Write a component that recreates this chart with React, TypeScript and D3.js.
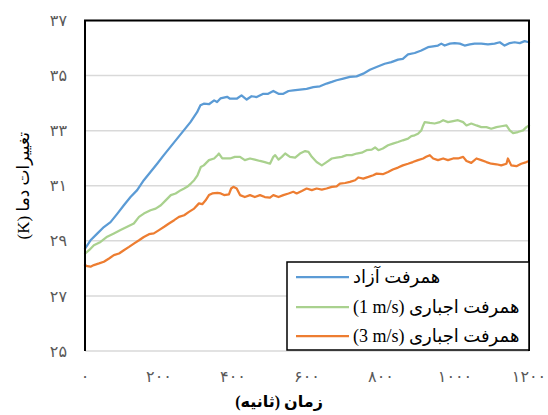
import React from "react";
import * as d3 from "d3";

const yTicks = [25, 27, 29, 31, 33, 35, 37];
const xTicks = [0, 200, 400, 600, 800, 1000, 1200];
const seriesNames = ["همرفت آزاد", "همرفت اجباری", "همرفت اجباری"];
const seriesUnits = ["", "(1 m/s)", "(3 m/s)"];
const seriesColors = ["#5B9BD5", "#A9D18E", "#ED7D31"];
const xTitle = "زمان (ثانیه)";
const yTitle = "تغییرات دما (K)";

const freeConv: [number, number][] = [
  [0, 28.72], [15, 29.02], [33, 29.26], [51, 29.5], [69, 29.68], [87, 29.98], [105, 30.29], [123, 30.59],
  [141, 30.84], [159, 31.2], [177, 31.5], [195, 31.8], [213, 32.11], [231, 32.41], [249, 32.71], [267, 33.01],
  [285, 33.31], [303, 33.67], [312, 33.92], [321, 33.98], [335, 33.96], [349, 34.1], [357, 34.04], [366, 34.17],
  [384, 34.23], [392, 34.16], [410, 34.16], [423, 34.28], [437, 34.13], [450, 34.25], [464, 34.22], [482, 34.34],
  [495, 34.34], [509, 34.44], [523, 34.34], [536, 34.34], [550, 34.44], [563, 34.46], [581, 34.49], [599, 34.52],
  [617, 34.58], [635, 34.61], [653, 34.71], [667, 34.77], [680, 34.83], [698, 34.89], [716, 34.95], [734, 34.97],
  [752, 35.07], [770, 35.21], [788, 35.31], [810, 35.43], [828, 35.49], [846, 35.58], [859, 35.61], [873, 35.77],
  [891, 35.82], [909, 35.91], [927, 36.03], [941, 36.06], [954, 36.09], [963, 36.16], [972, 36.09], [986, 36.16],
  [999, 36.18], [1013, 36.16], [1026, 36.09], [1040, 36.13], [1053, 36.16], [1071, 36.16], [1089, 36.13], [1107, 36.16],
  [1121, 36.21], [1134, 36.09], [1148, 36.18], [1161, 36.21], [1175, 36.18], [1188, 36.25], [1200, 36.21],
];

const forced1: [number, number][] = [
  [0, 28.54], [11, 28.66], [24, 28.84], [42, 28.96], [60, 29.15], [78, 29.27], [96, 29.39], [114, 29.51],
  [132, 29.63], [146, 29.87], [159, 29.99], [177, 30.11], [191, 30.17], [205, 30.29], [218, 30.47], [232, 30.66],
  [245, 30.72], [259, 30.84], [268, 30.9], [276, 30.96], [286, 31.08], [295, 31.2], [304, 31.38], [313, 31.68],
  [321, 31.74], [335, 31.93], [349, 31.99], [358, 32.11], [362, 32.17], [371, 31.99], [385, 31.99], [392, 31.99],
  [405, 32.05], [419, 32.05], [432, 31.93], [446, 31.99], [459, 31.95], [473, 31.9], [486, 31.86], [500, 31.8],
  [509, 32.05], [514, 32.11], [523, 31.95], [532, 32.05], [541, 32.17], [554, 32.05], [568, 32.02], [581, 32.17],
  [595, 32.26], [604, 32.23], [613, 32.05], [626, 31.86], [640, 31.74], [653, 31.86], [667, 31.99], [680, 32.02],
  [694, 32.05], [707, 32.11], [721, 32.11], [734, 32.17], [748, 32.2], [761, 32.29], [775, 32.31], [784, 32.39],
  [793, 32.29], [805, 32.35], [819, 32.47], [832, 32.53], [846, 32.59], [859, 32.65], [873, 32.71], [882, 32.8],
  [891, 32.83], [900, 32.89], [909, 33.01], [914, 33.19], [918, 33.31], [932, 33.28], [945, 33.26], [959, 33.31],
  [968, 33.38], [981, 33.31], [995, 33.35], [1008, 33.38], [1022, 33.31], [1031, 33.19], [1044, 33.26], [1058, 33.19],
  [1071, 33.13], [1085, 33.13], [1098, 33.07], [1112, 33.13], [1125, 33.16], [1139, 33.19], [1148, 33.01], [1157, 32.91],
  [1170, 32.95], [1184, 33.01], [1193, 33.13], [1200, 33.19],
];

const forced3: [number, number][] = [
  [0, 28.12], [6, 28.08], [15, 28.06], [24, 28.12], [38, 28.18], [51, 28.24], [65, 28.36], [78, 28.48],
  [92, 28.54], [105, 28.66], [119, 28.78], [132, 28.9], [146, 29.02], [159, 29.14], [173, 29.24], [186, 29.27],
  [200, 29.39], [214, 29.51], [227, 29.63], [241, 29.75], [254, 29.87], [268, 29.93], [281, 30.05], [295, 30.17],
  [308, 30.36], [317, 30.33], [326, 30.47], [335, 30.66], [344, 30.72], [358, 30.74], [367, 30.72], [376, 30.66],
  [389, 30.69], [395, 30.9], [401, 30.96], [410, 30.9], [419, 30.66], [432, 30.59], [446, 30.66], [459, 30.59],
  [473, 30.66], [486, 30.59], [500, 30.57], [509, 30.66], [523, 30.59], [536, 30.66], [550, 30.72], [563, 30.78],
  [572, 30.72], [586, 30.81], [599, 30.9], [613, 30.84], [626, 30.9], [640, 30.86], [653, 30.9], [667, 30.96],
  [680, 30.98], [689, 31.08], [703, 31.1], [716, 31.14], [730, 31.2], [739, 31.3], [752, 31.26], [766, 31.32],
  [779, 31.38], [788, 31.44], [805, 31.42], [819, 31.5], [832, 31.59], [846, 31.66], [859, 31.74], [873, 31.8],
  [886, 31.86], [900, 31.93], [914, 31.99], [922, 32.05], [932, 32.11], [941, 31.99], [954, 31.93], [968, 31.99],
  [981, 31.93], [995, 31.99], [1008, 31.99], [1022, 32.05], [1031, 31.9], [1044, 31.83], [1058, 31.99], [1071, 31.93],
  [1085, 31.86], [1098, 31.8], [1112, 31.78], [1125, 31.74], [1139, 31.8], [1143, 31.99], [1152, 31.74], [1166, 31.71],
  [1179, 31.8], [1193, 31.86], [1200, 31.9],
];

const allSeries = [freeConv, forced1, forced3];

const toPersian = (n: number) => String(n).replace(/\d/g, (d) => "۰۱۲۳۴۵۶۷۸۹"[+d]);
const rtl = (s: string) => "\u202B" + s + "\u202C";
const ltr = (s: string) => "\u202A" + s + "\u202C";

const W = 548;
const H = 415;
const left = 85;
const right = 529;
const top = 20.5;
const bottom = 351;

export default function App() {
  const x = d3.scaleLinear().domain([0, 1200]).range([left, right]);
  const y = d3.scaleLinear().domain([25, 37]).range([bottom, top]);
  const line = d3
    .line<[number, number]>()
    .x((d) => x(d[0]))
    .y((d) => y(d[1]));
  const font = "'Times New Roman', 'Liberation Serif', 'DejaVu Sans', serif";

  const lgX = 287;
  const lgY = 262;
  const lgW = right - lgX;
  const lgH = 88;
  const rowY = [277, 307, 336];

  return (
    <svg
      width={W}
      height={H}
      style={{ position: "absolute", left: 0, top: 0, background: "#fff" }}
      fontFamily={font}
    >
      <rect x={0} y={0} width={W} height={H} fill="#fff" />
      {yTicks.map((t) => (
        <line key={"g" + t} x1={left} x2={right} y1={y(t)} y2={y(t)} stroke="#D9D9D9" strokeWidth={1.5} />
      ))}
      {allSeries.map((s, i) => (
        <path
          key={"s" + i}
          d={line(s) || ""}
          fill="none"
          stroke={seriesColors[i]}
          strokeWidth={2.25}
          strokeLinejoin="round"
          strokeLinecap="round"
        />
      ))}
      <path
        d={`M${left},${bottom}V${y(37)}H${right}V${bottom}`}
        fill="none"
        stroke="#000"
        strokeWidth={2}
      />
      {yTicks.map((t) => (
        <text key={"yl" + t} x={67} y={y(t)} dy="0.35em" textAnchor="end" fontSize={16} fill="#595959">
          {toPersian(t)}
        </text>
      ))}
      {xTicks.map((t) => (
        <text key={"xl" + t} x={x(t)} y={376} dy="0.35em" textAnchor="middle" fontSize={16} fill="#595959">
          {toPersian(t)}
        </text>
      ))}
      <text x={279} y={401} dy="0.35em" textAnchor="middle" fontSize={16} fontWeight="bold" fill="#000">
        {rtl(xTitle)}
      </text>
      <text
        transform={`translate(23,${(top + bottom) / 2}) rotate(-90)`}
        textAnchor="middle"
        dy="0.35em"
        fontSize={17}
        fill="#000"
      >
        {rtl(yTitle)}
      </text>
      <rect x={lgX} y={lgY} width={lgW} height={lgH} fill="#fff" stroke="#000" strokeWidth={1.5} />
      {seriesNames.map((n, i) => (
        <g key={"lg" + i}>
          <line x1={296} x2={349} y1={rowY[i]} y2={rowY[i]} stroke={seriesColors[i]} strokeWidth={2.25} />
          <text x={353} y={rowY[i]} dy="0.35em" textAnchor="start" fontSize={18} fill="#000">
            {rtl(seriesUnits[i] ? n + " " + ltr(seriesUnits[i]) : n)}
          </text>
        </g>
      ))}
    </svg>
  );
}
